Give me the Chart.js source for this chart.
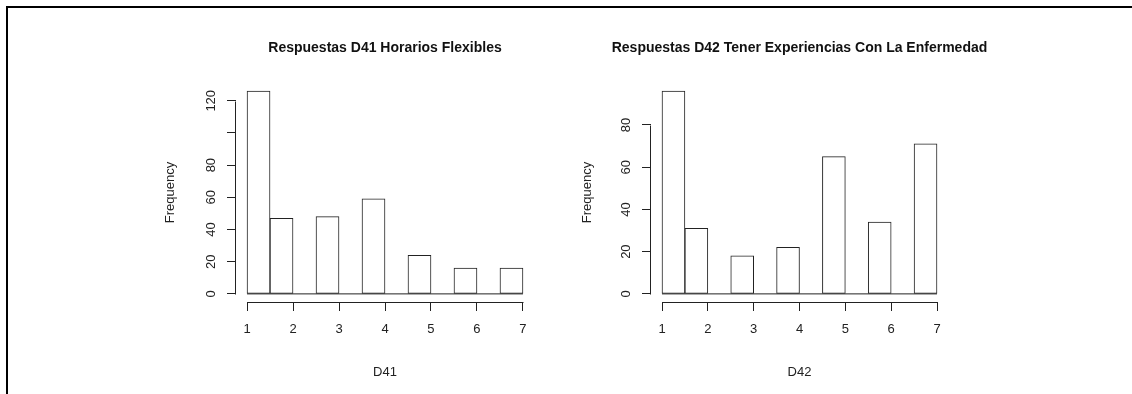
<!DOCTYPE html>
<html>
<head>
<meta charset="utf-8">
<script src="https://cdn.jsdelivr.net/npm/chart.js@4.4.1/dist/chart.umd.min.js"></script>
<style>
html, body { margin: 0; padding: 0; background: #fff; }
body { width: 1132px; height: 394px; position: relative; overflow: hidden; }
.frame { position: absolute; left: 6px; top: 6px; right: 0; bottom: 0; border-top: 2px solid #000; border-left: 2px solid #000; }
.panel { position: absolute; top: 0; width: 566px; height: 394px; }
</style>
</head>
<body>
<div class="frame"></div>
<div class="panel" style="left:0"><canvas id="histD41"></canvas></div>
<div class="panel" style="left:566px"><canvas id="histD42"></canvas></div>
<script>
// histogram bins (breaks every 0.5 from 1 to 7) and counts
const binMids = [1.25, 1.75, 2.25, 2.75, 3.25, 3.75, 4.25, 4.75, 5.25, 5.75, 6.25, 6.75];
const countsD41 = [126, 47, 0, 48, 0, 59, 0, 24, 0, 16, 0, 16];
const countsD42 = [96, 31, 0, 18, 0, 22, 0, 65, 0, 34, 0, 71];
const xTicks = [1, 2, 3, 4, 5, 6, 7];
const yTicksD41 = [0, 20, 40, 60, 80, 100, 120];
const yLabelsD41 = ['0', '20', '40', '60', '80', '', '120'];
const yTicksD42 = [0, 20, 40, 60, 80];
const yLabelsD42 = ['0', '20', '40', '60', '80'];

const FONT = "'Liberation Sans', Arial, Helvetica, sans-serif";
const INK = '#222';

// R style axes: line only runs from first to last tick
const axisSegments = {
    id: 'axisSegments',
    afterDraw(chart) {
        const { ctx, chartArea, scales: { x, y } } = chart;
        ctx.save();
        ctx.strokeStyle = INK;
        ctx.lineWidth = 1;
        ctx.beginPath();
        const yb = Math.round(chartArea.bottom) + 0.5;
        ctx.moveTo(Math.round(x.getPixelForValue(x.ticks[0].value)) + 0.5, yb);
        ctx.lineTo(Math.round(x.getPixelForValue(x.ticks[x.ticks.length - 1].value)) + 0.5, yb);
        const xl = Math.round(chartArea.left) - 0.5;
        ctx.moveTo(xl, Math.round(y.getPixelForValue(y.ticks[0].value)) + 0.5);
        ctx.lineTo(xl, Math.round(y.getPixelForValue(y.ticks[y.ticks.length - 1].value)) + 0.5);
        ctx.stroke();
        ctx.restore();
    }
};

// main title centred over the plot region (may be wider than it, like R's main=)
const panelTitle = {
    id: 'panelTitle',
    afterDraw(chart, args, opts) {
        const { ctx, chartArea } = chart;
        ctx.save();
        ctx.font = 'bold 14px ' + FONT;
        ctx.fillStyle = '#111';
        ctx.textAlign = 'center';
        ctx.textBaseline = 'middle';
        ctx.fillText(opts.text, (chartArea.left + chartArea.right) / 2, opts.y);
        ctx.restore();
    }
};

function histConfig(o) {
    const span = xTicks[xTicks.length - 1] - xTicks[0];
    const top = Math.max(...o.counts);
    return {
        type: 'bar',
        data: {
            datasets: [{
                type: 'bar',
                data: binMids.map((m, i) => ({ x: m, y: o.counts[i] })),
                backgroundColor: '#fff',
                borderColor: INK,
                borderWidth: 1,
                borderSkipped: false,
                barPercentage: 1,
                categoryPercentage: 1,
                order: 2
            }, {
                type: 'line',
                data: [{ x: xTicks[0], y: 0 }, { x: xTicks[xTicks.length - 1], y: 0 }],
                borderColor: INK,
                borderWidth: 1,
                pointRadius: 0,
                order: 1
            }]
        },
        options: {
            responsive: true,
            maintainAspectRatio: false,
            animation: false,
            layout: { padding: o.padding },
            plugins: {
                legend: { display: false },
                tooltip: { enabled: false },
                title: { display: false },
                panelTitle: { text: o.title, y: 48 }
            },
            scales: {
                x: {
                    type: 'linear',
                    offset: false,
                    min: xTicks[0] - 0.04 * span,
                    max: xTicks[xTicks.length - 1] + 0.04 * span,
                    afterBuildTicks: s => { s.ticks = xTicks.map(v => ({ value: v })); },
                    afterFit: s => { s.height = 80; },
                    border: { display: false },
                    grid: { offset: false, drawOnChartArea: false, drawTicks: true, tickLength: 9, color: INK },
                    ticks: { autoSkip: false, maxRotation: 0, color: INK, padding: 11, font: { family: FONT, size: 13 } },
                    title: { display: true, text: o.xTitle, color: INK, font: { family: FONT, size: 13 }, padding: { top: 0, bottom: 2 } }
                },
                y: {
                    min: -0.04 * top,
                    max: 1.04 * top,
                    afterBuildTicks: s => { s.ticks = o.yTicks.map(v => ({ value: v })); },
                    afterFit: s => { s.width = o.yWidth; },
                    border: { display: false },
                    grid: { drawOnChartArea: false, drawTicks: true, tickLength: 9, color: INK },
                    ticks: {
                        autoSkip: false,
                        minRotation: 90,
                        maxRotation: 90,
                        crossAlign: 'center',
                        padding: o.yTickPad,
                        color: INK,
                        font: { family: FONT, size: 13 },
                        callback: (v, i) => o.yLabels[i]
                    },
                    title: { display: true, text: 'Frequency', color: INK, font: { family: FONT, size: 13 }, padding: { top: o.yTitlePad, bottom: 0 } }
                }
            }
        },
        plugins: [axisSegments, panelTitle]
    };
}

const chartD41 = new Chart(document.getElementById('histD41'), histConfig({
    counts: countsD41,
    title: 'Respuestas D41 Horarios Flexibles',
    xTitle: 'D41',
    yTicks: yTicksD41,
    yLabels: yLabelsD41,
    padding: { left: 150, right: 32, top: 83, bottom: 12 },
    yWidth: 86,
    yTickPad: 5,
    yTitlePad: 13
}));

const chartD42 = new Chart(document.getElementById('histD42'), histConfig({
    counts: countsD42,
    title: 'Respuestas D42 Tener Experiencias Con La Enfermedad',
    xTitle: 'D42',
    yTicks: yTicksD42,
    yLabels: yLabelsD42,
    padding: { left: 0, right: 184, top: 83, bottom: 12 },
    yWidth: 85,
    yTickPad: 8.8,
    yTitlePad: 14
}));
</script>
</body>
</html>
